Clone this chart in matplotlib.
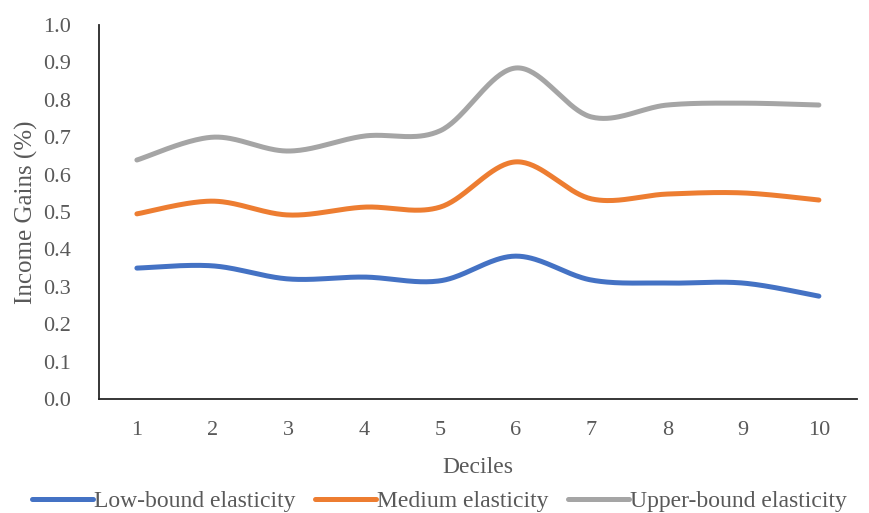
import numpy as np
import matplotlib
matplotlib.use("Agg")
import matplotlib.pyplot as plt
from matplotlib.lines import Line2D

deciles = [1, 2, 3, 4, 5, 6, 7, 8, 9, 10]
low_bound = [0.350, 0.356, 0.321, 0.326, 0.316, 0.382, 0.318, 0.310, 0.310, 0.275]
medium = [0.495, 0.529, 0.492, 0.513, 0.513, 0.634, 0.535, 0.548, 0.551, 0.532]
upper_bound = [0.639, 0.700, 0.663, 0.703, 0.717, 0.885, 0.754, 0.786, 0.791, 0.786]
series_names = ["Low-bound elasticity", "Medium elasticity", "Upper-bound elasticity"]
colors = ["#4472C4", "#ED7D31", "#A5A5A5"]


def smooth(x, y, n=40):
    x = np.asarray(x, float)
    y = np.asarray(y, float)
    P = np.column_stack([x, y])
    P = np.vstack([P[0], P, P[-1]])
    out = []
    for i in range(1, len(P) - 2):
        p0, p1, p2, p3 = P[i - 1], P[i], P[i + 1], P[i + 2]
        c1 = p1 + (p2 - p0) / 6
        c2 = p2 - (p3 - p1) / 6
        t = np.linspace(0, 1, n)[:, None]
        b = ((1 - t) ** 3) * p1 + 3 * ((1 - t) ** 2) * t * c1 + 3 * (1 - t) * t ** 2 * c2 + t ** 3 * p2
        out.append(b if i == 1 else b[1:])
    B = np.vstack(out)
    return B[:, 0], B[:, 1]


plt.rcParams['font.family'] = ['Liberation Serif', 'DejaVu Serif']
txt = '#595959'

fig = plt.figure(figsize=(8.7, 5.13), dpi=100)
ax = fig.add_axes([0.1138, 0.2222, 0.871, 0.7291])

for vals, c in zip([low_bound, medium, upper_bound], colors):
    sx, sy = smooth(deciles, vals)
    ax.plot(sx, sy, color=c, lw=3.6, solid_capstyle='round')

ax.set_xlim(0.5, 10.5)
ax.set_ylim(0, 1.0)
ax.set_xticks(deciles)
ax.set_xticklabels([str(d) for d in deciles])
ax.set_yticks(np.arange(0, 1.01, 0.1))
ax.set_yticklabels([f"{v:.1f}" for v in np.arange(0, 1.01, 0.1)])
ax.tick_params(length=0, labelsize=16, colors=txt)
ax.tick_params(axis='x', pad=16)
ax.tick_params(axis='y', pad=20)
for s in ['top', 'right']:
    ax.spines[s].set_visible(False)
for s in ['left', 'bottom']:
    ax.spines[s].set_color('#262626')
    ax.spines[s].set_linewidth(1.3)

ax.set_xlabel("Deciles", fontsize=17, color=txt, labelpad=12)
ax.set_ylabel("Income Gains (%)", fontsize=18, color=txt, labelpad=4)

handles = [Line2D([0], [0], color=c, lw=3.6, solid_capstyle='round') for c in colors]
fig.legend(handles, series_names, loc='center', bbox_to_anchor=(0.505, 0.022), ncol=3,
           frameon=False, fontsize=17, labelcolor=txt, handlelength=2.6,
           handletextpad=0.05, columnspacing=0.8, borderaxespad=0)

fig.savefig("out.png", dpi=100)
